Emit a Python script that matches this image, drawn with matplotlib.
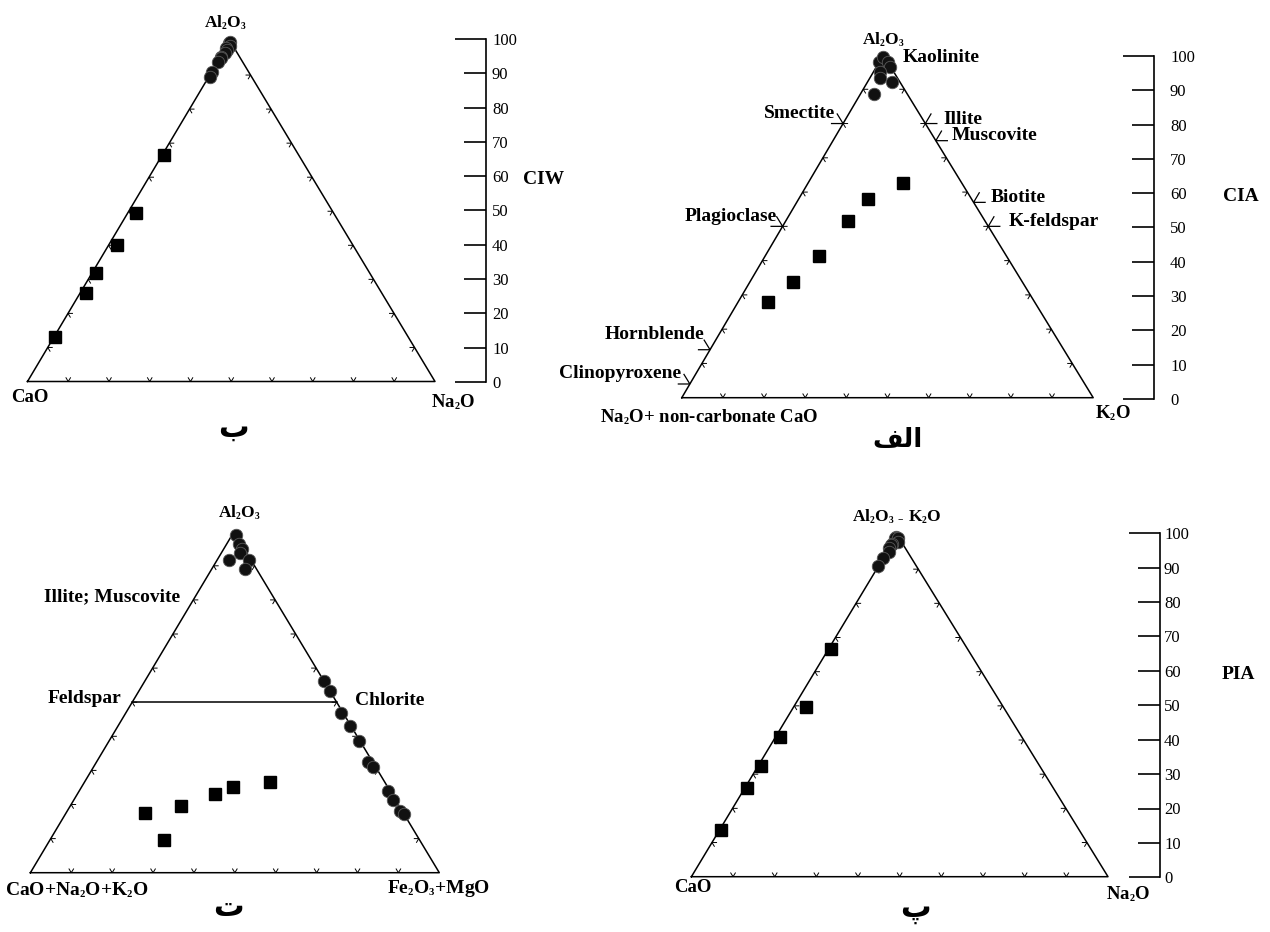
import numpy as np
import matplotlib
matplotlib.use('Agg')
import matplotlib.pyplot as plt
from matplotlib.ticker import FixedLocator, FixedFormatter

try:
    # smaller subscripts, closer to the original figure
    import matplotlib._mathtext as _mt
    _mt.SHRINK_FACTOR = 0.55
except Exception:
    pass

plt.rcParams['font.family'] = ['Liberation Serif', 'DejaVu Sans']
plt.rcParams['mathtext.fontset'] = 'custom'
plt.rcParams['mathtext.rm'] = 'Liberation Serif:bold'
plt.rcParams['mathtext.it'] = 'Liberation Serif:bold'
plt.rcParams['mathtext.bf'] = 'Liberation Serif:bold'

# ---- data (percent of apex component, percent of right-corner component) ----
# panel ب : CIW  (Al2O3 - CaO - Na2O)
ciw_sq_al = [66.5, 49.5, 40.0, 32.0, 26.0, 13.0]
ciw_sq_na = [0.4, 2.0, 2.0, 0.8, 1.5, 0.2]
ciw_ci_al = [99.3, 99.8, 98.5, 97.8, 97.5, 96.5, 95.4, 95.0, 93.9, 91.0, 89.5]
ciw_ci_na = [0.0, 0.2, 0.8, 0.0, 0.4, 0.6, 0.0, 0.3, 0.0, 0.0, 0.3]

# panel الف : CIA  (Al2O3 - Na2O+CaO* - K2O)
cia_sq_al = [62.7, 57.9, 51.6, 41.3, 33.7, 27.9]
cia_sq_k = [23.0, 16.9, 15.0, 13.0, 10.6, 7.4]
cia_ci_al = [98.0, 99.5, 98.0, 96.6, 95.1, 93.2, 92.2, 88.5]
cia_ci_k = [0.0, 0.2, 2.0, 3.2, 1.5, 2.6, 5.9, 3.4]
minerals_left = ['Smectite', 'Plagioclase', 'Hornblende', 'Clinopyroxene']
minerals_left_cia = [80, 50, 14, 4]
minerals_right = ['Illite', 'Muscovite', 'Biotite', 'K-feldspar']
minerals_right_cia = [80, 75, 57, 50]

# panel ت : A - CNK - FM
t_sq_al = [17.6, 9.6, 19.6, 23.0, 25.0, 26.5]
t_sq_fm = [19.2, 28.0, 27.0, 33.7, 37.2, 45.4]
t_ci_al = [99.0, 96.5, 94.8, 93.7, 91.7, 91.7, 89.0,
           56.2, 53.4, 46.7, 43.0, 38.7, 32.6, 30.9, 24.0, 21.3, 18.2, 17.2]
t_ci_cnk = [0.0, 0.5, 0.7, 1.7, 5.5, 0.5, 2.8,
            0.0, 0.0, 0.5, 0.3, 0.3, 1.1, 0.7, 0.5, 0.6, 0.5, 0.0]

# panel پ : PIA  (Al2O3-K2O - CaO - Na2O)
pia_sq_al = [66.5, 49.6, 40.8, 32.4, 25.9, 13.7]
pia_sq_na = [0.6, 2.9, 1.1, 0.6, 0.5, 0.4]
pia_ci_al = [99.5, 99.0, 99.0, 98.0, 97.3, 97.1, 96.1, 95.0, 93.2, 90.8]
pia_ci_na = [0.0, 0.0, 0.8, 1.2, 0.0, 0.0, 0.0, 0.5, 0.0, 0.0]

scale_ticks = list(range(0, 101, 10))

# ---- figure ----
W, H = 1270, 932
PT = 0.72
fig = plt.figure(figsize=(W / 100, H / 100), dpi=100)


def px_axes(left, right, bottom, top):
    return fig.add_axes([left / W, 1 - bottom / H, (right - left) / W, (bottom - top) / H])


def xy(al, b, f):
    al = np.asarray(al, dtype=float) / 100
    b = np.asarray(b, dtype=float) / 100
    return b + al * f, al


def poly(ax, pts, f, lw=0.8):
    xs = [p[1] + p[0] * f for p in pts]
    ys = [p[0] for p in pts]
    ax.plot(xs, ys, color='black', lw=lw, clip_on=False, solid_joinstyle='miter')


def triangle(L, R, base, top, f):
    ax = px_axes(L, R, base, top)
    ax.set_xlim(0, 1)
    ax.set_ylim(0, 1)
    ax.axis('off')
    ax.plot([0, 1, f, 0], [0, 0, 1, 0], color='black', lw=1.1, clip_on=False)
    d = 0.011
    for t in np.arange(0.1, 0.95, 0.1):
        poly(ax, [(d, t - d), (0, t), (d, t)], f, 0.7)
        poly(ax, [(t, d), (t, 0), (t - d, d)], f, 0.7)
        poly(ax, [(t, 1 - t - d), (t, 1 - t), (t - d, 1 - t)], f, 0.7)
    return ax


def label(ax, text, al, b, f, dx, dy, ha='center', size=13.5):
    ax.annotate(text, xy=(b / 100 + al / 100 * f, al / 100), xytext=(dx * PT, dy * PT),
                textcoords='offset points', ha=ha, va='center', fontsize=size,
                fontweight='bold', annotation_clip=False)


def points(ax, al_sq, b_sq, al_ci, b_ci, f):
    x, y = xy(al_ci, b_ci, f)
    ax.plot(x, y, 'o', ms=9, mfc='#111111', mec='#5a5a5a', mew=0.6, clip_on=False, zorder=5)
    x, y = xy(al_sq, b_sq, f)
    ax.plot(x, y, 's', ms=8, color='black', clip_on=False, zorder=5)


def scale_bar(x, y100, y0, pad, title, title_dx):
    ax = px_axes(x - 40, x, y0, y100)
    ax.set_ylim(0, 100)
    ax.patch.set_visible(False)
    for s in ['left', 'top', 'bottom']:
        ax.spines[s].set_visible(False)
    ax.spines['right'].set_linewidth(1.2)
    ax.set_xticks([])
    ax.yaxis.tick_right()
    ends = [scale_ticks[0], scale_ticks[-1]]
    mids = scale_ticks[1:-1]
    ax.yaxis.set_major_locator(FixedLocator(ends))
    ax.yaxis.set_major_formatter(FixedFormatter([str(v) for v in ends]))
    ax.yaxis.set_minor_locator(FixedLocator(mids))
    ax.yaxis.set_minor_formatter(FixedFormatter([str(v) for v in mids]))
    ax.tick_params(axis='y', which='major', direction='in', length=31 * PT, width=1.2,
                   pad=pad * PT, labelsize=12)
    ax.tick_params(axis='y', which='minor', direction='in', length=22 * PT, width=1.2,
                   pad=pad * PT, labelsize=12)
    ax.annotate(title, xy=(1, 59), xycoords=('axes fraction', 'data'),
                xytext=(title_dx * PT, 0), textcoords='offset points',
                ha='left', va='center', fontsize=14, fontweight='bold')


def persian(x, y, s, size):
    fig.text(x / W, 1 - y / H, s, ha='center', va='center', fontsize=size,
             fontweight='bold', family='DejaVu Sans')


# panel ب
f1 = 0.497
ax1 = triangle(27.5, 435, 381.5, 41, f1)
points(ax1, ciw_sq_al, ciw_sq_na, ciw_ci_al, ciw_ci_na, f1)
label(ax1, r'Al$_2$O$_3$', 100, 0, f1, -5, 18, size=12.5)
label(ax1, 'CaO', 0, 0, f1, 2, -15.5)
label(ax1, r'Na$_2$O', 0, 100, f1, 18.5, -20.5)
scale_bar(486, 39, 382, 6, 'CIW', 37)
persian(233, 428, '\u0628', 22)

# panel الف
f2 = 0.49
ax2 = triangle(681.8, 1093.2, 397.7, 55, f2)
D = 0.028
for name, v in zip(minerals_left, minerals_left_cia):
    t = v / 100
    poly(ax2, [(t, -D), (t, 0), (t + D, -D)], f2, 0.9)
for name, v in zip(minerals_right, minerals_right_cia):
    t = v / 100
    poly(ax2, [(t, 1 - t + D), (t, 1 - t), (t + D, 1 - t)], f2, 0.9)
points(ax2, cia_sq_al, cia_sq_k, cia_ci_al, cia_ci_k, f2)
left_off = [(-8, 10), (-5.5, 10), (-6, 15), (-9, 10)]
right_off = [(17.6, 4), (16, 5), (16.7, 4.4), (20, 5)]
for name, v, (dx, dy) in zip(minerals_left, minerals_left_cia, left_off):
    label(ax2, name, v, 0, f2, dx, dy, ha='right', size=14)
for name, v, (dx, dy) in zip(minerals_right, minerals_right_cia, right_off):
    label(ax2, name, v, 100 - v, f2, dx, dy, ha='left', size=14)
label(ax2, 'Kaolinite', 100, 0, f2, 19, -3, ha='left', size=14)
label(ax2, r'Al$_2$O$_3$', 100, 0, f2, 0, 15, size=12.5)
label(ax2, r'Na$_2$O+ non-carbonate CaO', 0, 0, f2, 27.7, -19.3)
label(ax2, r'K$_2$O', 0, 100, f2, 19.3, -15.3)
scale_bar(1154, 56, 399, 16, 'CIA', 69)
persian(898, 440, '\ufed2\ufedf\ufe8d', 19)

# panel ت
f3 = 0.498
ax3 = triangle(30.4, 439.3, 872.7, 531.7, f3)
x, y = xy([50, 50], [0, 50], f3)
ax3.plot(x, y, color='black', lw=1.1)
t_ci_fm = [100 - a - c for a, c in zip(t_ci_al, t_ci_cnk)]
points(ax3, t_sq_al, t_sq_fm, t_ci_al, t_ci_fm, f3)
label(ax3, r'Al$_2$O$_3$', 100, 0, f3, 5, 18.7, size=12.5)
label(ax3, r'CaO+Na$_2$O+K$_2$O', 0, 0, f3, 46.6, -17.3, size=14)
label(ax3, r'Fe$_2$O$_3$+MgO', 0, 100, f3, -1, -15.3, size=14)
label(ax3, 'Feldspar', 50, 0, f3, -11, 4, ha='right', size=14)
label(ax3, 'Chlorite', 50, 50, f3, 18, 1.5, ha='left', size=14)
label(ax3, 'Illite; Muscovite', 81, 0, f3, -15, 0, ha='right', size=14)
persian(228, 908, '\u062a', 22)

# panel پ
f4 = 0.494
ax4 = triangle(691.4, 1108, 876.7, 535, f4)
points(ax4, pia_sq_al, pia_sq_na, pia_ci_al, pia_ci_na, f4)
label(ax4, r'Al$_2$O$_3$ $_{-}$ K$_2$O', 100, 0, f4, 0, 18.3, size=12.5)
label(ax4, 'CaO', 0, 0, f4, 1.6, -11.3)
label(ax4, r'Na$_2$O', 0, 100, f4, 19.7, -17.3)
scale_bar(1160, 533.3, 877.3, 4, 'PIA', 61.5)
persian(915, 910, '\u067e', 22)

fig.savefig('out.png', dpi=100, facecolor='white')
